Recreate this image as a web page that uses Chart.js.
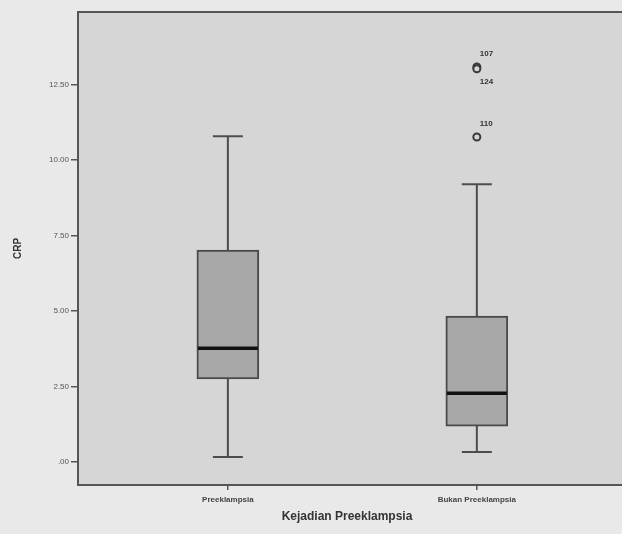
<!DOCTYPE html>
<html>
<head>
<meta charset="utf-8">
<script src="https://cdn.jsdelivr.net/npm/chart.js@4.4.1/dist/chart.umd.min.js"></script>
<style>
  html, body { margin: 0; padding: 0; background: #e9e9e9; overflow: hidden; }
  #wrap { width: 622px; height: 534px; }
</style>
</head>
<body>
<div id="wrap"><canvas id="chart" width="622" height="534"></canvas></div>
<script>
const categories = ["Preeklampsia", "Bukan Preeklampsia"];
const whiskerLow = [0.17, 0.33];
const q1 = [2.75, 1.19];
const median = [3.77, 2.28];
const q3 = [7.02, 4.83];
const whiskerHigh = [10.79, 9.2];

const outlierGroup = [2, 2, 2];
const outlierValues = [13.08, 13.02, 10.76];
const outlierCases = ["107", "124", "110"];

const yTicks = [0, 2.5, 5, 7.5, 10, 12.5];

const boxData = categories.map((c, i) => ({ x: i + 1, y: [q1[i], q3[i]] }));
const outlierData = outlierValues.map((v, i) => ({ x: outlierGroup[i], y: v }));

const boxPlugin = {
  id: "boxPlugin",
  beforeDraw(chart) {
    const { ctx, chartArea: a } = chart;
    ctx.save();
    ctx.fillStyle = "#d6d6d6";
    ctx.fillRect(a.left, a.top, chart.width - a.left, a.bottom - a.top);
    ctx.restore();
  },
  beforeDatasetsDraw(chart) {
    const { ctx } = chart;
    const x = chart.scales.x, y = chart.scales.y;
    ctx.save();
    ctx.strokeStyle = "#4d4d4d";
    ctx.lineWidth = 2;
    categories.forEach((c, i) => {
      const px = x.getPixelForValue(i + 1);
      const lo = y.getPixelForValue(whiskerLow[i]);
      const hi = y.getPixelForValue(whiskerHigh[i]);
      ctx.beginPath();
      ctx.moveTo(px, lo); ctx.lineTo(px, hi);
      ctx.moveTo(px - 15, lo); ctx.lineTo(px + 15, lo);
      ctx.moveTo(px - 15, hi); ctx.lineTo(px + 15, hi);
      ctx.stroke();
    });
    ctx.restore();
  },
  afterDatasetsDraw(chart) {
    const { ctx, chartArea: a } = chart;
    const x = chart.scales.x, y = chart.scales.y;
    ctx.save();
    // medianas
    ctx.strokeStyle = "#111";
    ctx.lineWidth = 3.5;
    categories.forEach((c, i) => {
      const px = x.getPixelForValue(i + 1);
      const py = y.getPixelForValue(median[i]);
      ctx.beginPath();
      ctx.moveTo(px - 30, py); ctx.lineTo(px + 30, py);
      ctx.stroke();
    });
    // bordes superior e inferior hasta el borde del lienzo
    ctx.strokeStyle = "#555";
    ctx.lineWidth = 2;
    ctx.beginPath();
    ctx.moveTo(a.left, a.top); ctx.lineTo(chart.width, a.top);
    ctx.moveTo(a.right - 2, a.bottom); ctx.lineTo(chart.width, a.bottom);
    ctx.stroke();
    // etiquetas de atipicos
    const meta = chart.getDatasetMeta(1);
    ctx.fillStyle = "#333";
    ctx.font = "bold 8px 'Liberation Sans', Arial, sans-serif";
    ctx.textAlign = "left";
    ctx.textBaseline = "middle";
    meta.data.forEach((pt, i) => {
      const dy = outlierCases[i] === "124" ? 13 : -13;
      ctx.fillText(outlierCases[i], pt.x + 3, pt.y + dy);
    });
    ctx.restore();
  }
};

const ctx = document.getElementById("chart").getContext("2d");
const myChart = new Chart(ctx, {
  type: "bar",
  data: {
    datasets: [
      {
        label: "CRP",
        data: boxData,
        backgroundColor: "#a8a8a8",
        borderColor: "#4a4a4a",
        borderWidth: 2,
        borderSkipped: false,
        barThickness: 62,
      },
      {
        type: "scatter",
        label: "Outlier",
        data: outlierData,
        pointStyle: "circle",
        pointRadius: 3.5,
        pointBorderWidth: 2,
        pointBorderColor: "#3a3a3a",
        pointBackgroundColor: "#d6d6d6",
      },
    ],
  },
  options: {
    responsive: false,
    animation: false,
    layout: { padding: { top: 12, right: 0, left: 0, bottom: 0 } },
    plugins: { legend: { display: false }, tooltip: { enabled: false } },
    scales: {
      x: {
        type: "linear",
        offset: false,
        min: 0.398,
        max: 2.559,
        afterBuildTicks(s) { s.ticks = [{ value: 1 }, { value: 2 }]; },
        afterFit(s) { s.height = 49; },
        ticks: {
          callback: (v) => categories[v - 1],
          color: "#444",
          font: { size: 8, family: "'Liberation Sans', Arial, sans-serif", weight: "bold" },
          padding: 5,
          maxRotation: 0,
        },
        grid: { offset: false, drawOnChartArea: false, tickLength: 5, color: "#555", lineWidth: 1.5 },
        border: { display: true, color: "#555", width: 2 },
        title: {
          display: true,
          text: "Kejadian Preeklampsia",
          color: "#333",
          font: { size: 12, weight: "bold", family: "'Liberation Sans', Arial, sans-serif" },
          padding: { top: 4, bottom: 10 },
        },
      },
      y: {
        min: -0.76,
        max: 14.9,
        afterBuildTicks(s) { s.ticks = yTicks.map((v) => ({ value: v })); },
        afterFit(s) { s.width = 78; },
        ticks: {
          callback: (v) => (v === 0 ? ".00" : v.toFixed(2)),
          color: "#555",
          font: { size: 8, family: "'Liberation Sans', Arial, sans-serif" },
          padding: 2,
        },
        grid: { drawOnChartArea: false, tickLength: 7, color: "#555", lineWidth: 1.5 },
        border: { display: true, color: "#555", width: 2 },
        title: {
          display: true,
          text: "CRP",
          color: "#333",
          font: { size: 10, weight: "bold", family: "'Liberation Sans', Arial, sans-serif" },
          padding: { top: 12, bottom: 0 },
        },
      },
    },
  },
  plugins: [boxPlugin],
});
</script>
</body>
</html>
